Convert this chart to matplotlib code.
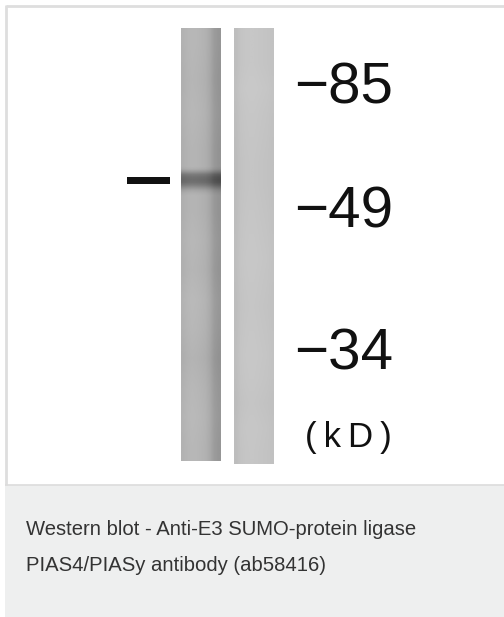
import numpy as np
import matplotlib
matplotlib.use("Agg")
import matplotlib.pyplot as plt
from matplotlib.patches import Rectangle

# ---- data ----
marker_labels = ["\u221285", "\u221249", "\u221234"]
unit_label = "(kD)"
caption_lines = ["Western blot - Anti-E3 SUMO-protein ligase",
                 "PIAS4/PIASy antibody (ab58416)"]
# gray level (0-255) of lane 1 across its width (left -> right)
lane1_cols = [178, 182, 184, 183, 181, 178, 170, 156, 150]
# lane 1 brightness offset above, across and below the band (top -> bottom)
lane1_top = [0, -2, 0, -3]
lane1_band = [-3, -10, -32, -58, -70, -74, -70, -56, -36, -18, -8, -3]
lane1_bottom = [-3, 0, -2, 2, 0, -4, 0, 2, 0]
lane2_cols = [190, 196, 198, 199, 199, 198, 197, 196, 194]
lane2_rows = [0, 0, 2, 0, -1, -2, -2, -1, 0, 1, 0, -1, 0, 1, 0, -2, 0, -1]

W, H, DPI = 504, 617, 100
fig = plt.figure(figsize=(W / DPI, H / DPI), dpi=DPI, facecolor="white")
ax = fig.add_axes([0, 0, 1, 1])
ax.set_xlim(0, W)
ax.set_ylim(H, 0)
ax.axis("off")

# frame & caption panel
ax.add_patch(Rectangle((5, 485), W + 10, H - 470, facecolor="#eeefef", edgecolor="none"))
ax.plot([5.5, W + 5], [5.5, 5.5], color="#dedede", lw=2, solid_capstyle="butt")
ax.plot([5.5, 5.5], [5, 485], color="#dedede", lw=2, solid_capstyle="butt")
ax.plot([5, W + 5], [484.5, 484.5], color="#dcdcdc", lw=1.2, solid_capstyle="butt")

def lane_image(cols, rows):
    c = np.asarray(cols, float)[None, :]
    r = np.asarray(rows, float)[:, None]
    g = np.clip(c + r, 0, 255) / 255.0
    return np.dstack([g, g, g])

# lane geometry (pixels)
l1 = (181, 221, 28, 461)
l2 = (234, 274, 28, 464)
band_top, band_bot = 165, 197

ax.imshow(lane_image(lane1_cols, lane1_top), extent=(l1[0], l1[1], band_top, l1[2]),
          interpolation="bilinear", aspect="auto", zorder=2)
ax.imshow(lane_image(lane1_cols, lane1_band), extent=(l1[0], l1[1], band_bot, band_top),
          interpolation="bilinear", aspect="auto", zorder=2)
ax.imshow(lane_image(lane1_cols, lane1_bottom), extent=(l1[0], l1[1], l1[3], band_bot),
          interpolation="bilinear", aspect="auto", zorder=2)
ax.imshow(lane_image(lane2_cols, lane2_rows), extent=(l2[0], l2[1], l2[3], l2[2]),
          interpolation="bilinear", aspect="auto", zorder=2)

# band indicator dash
ax.add_patch(Rectangle((127, 177), 43, 7, facecolor="#111111", edgecolor="none", zorder=3))

# marker labels
font = "Liberation Sans"
for lab, yb in zip(marker_labels, [103, 227, 369]):
    ax.text(294, yb, lab, fontsize=42, family=font, color="#111111",
            ha="left", va="baseline")
ax.text(305, 447, "( k D )".replace(" ", "\u2009"), fontsize=25, family=[font, "DejaVu Sans"],
        color="#111111", ha="left", va="baseline")

# caption
for line, yb in zip(caption_lines, [535, 571]):
    ax.text(26, yb, line, fontsize=14.6, family=font, color="#333333",
            ha="left", va="baseline")

fig.savefig("out.png", dpi=DPI, facecolor="white")
